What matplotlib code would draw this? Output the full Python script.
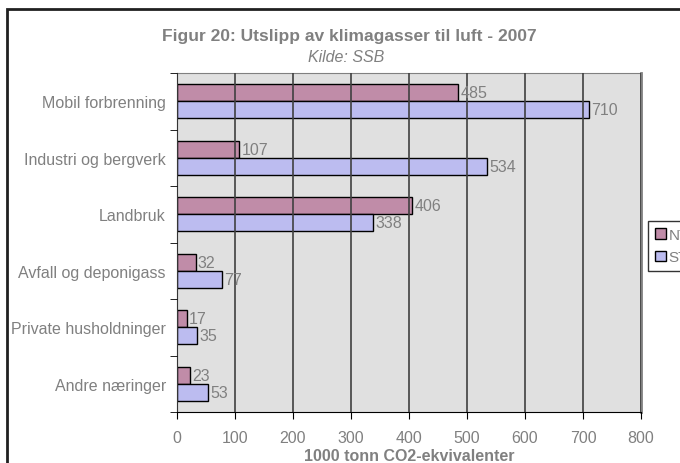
import numpy as np
import matplotlib
matplotlib.use('Agg')
import matplotlib.pyplot as plt
from matplotlib.patches import Rectangle

plt.rcParams['font.family'] = ['Liberation Sans', 'DejaVu Sans']

# data
categories = ['Mobil forbrenning', 'Industri og bergverk', 'Landbruk',
              'Avfall og deponigass', 'Private husholdninger', 'Andre næringer']
nt_values = [485, 107, 406, 32, 17, 23]
st_values = [710, 534, 338, 77, 35, 53]
series_names = ['NT', 'ST']
x_ticks = [0, 100, 200, 300, 400, 500, 600, 700, 800]

grey = '#808080'

fig = plt.figure(figsize=(6.8, 4.64), dpi=100)
ax = fig.add_axes([177 / 680, 1 - 413 / 464, (641 - 177) / 680, (413 - 74) / 464])
ax.set_facecolor('#e0e0e0')

y = np.arange(len(categories))
h = 0.3
b1 = ax.barh(y - h / 2, nt_values, height=h, color='#c08ca8', edgecolor='black',
             linewidth=1, label=series_names[0], zorder=2)
b2 = ax.barh(y + h / 2, st_values, height=h, color='#bcbcf0', edgecolor='black',
             linewidth=1, label=series_names[1], zorder=2)

for bars, vals in ((b1, nt_values), (b2, st_values)):
    for bar, v in zip(bars, vals):
        ax.text(v + 4, bar.get_y() + bar.get_height() / 2, str(v), va='center',
                ha='left', fontsize=11.5, color=grey, zorder=4)

ax.set_xlim(0, 800)
ax.set_ylim(len(categories) - 0.5, -0.5)
ax.set_xticks(x_ticks)
ax.set_xticklabels([str(t) for t in x_ticks], fontsize=11.5, color=grey)
ax.set_yticks(y)
ax.set_yticklabels(categories, fontsize=11.5, color=grey)
ax.set_yticks(np.arange(len(categories) + 1) - 0.5, minor=True)
ax.tick_params(axis='y', which='major', length=0, pad=8)
ax.tick_params(axis='y', which='minor', length=5, direction='out', color='black')
ax.tick_params(axis='x', length=5, direction='out', color='black', pad=8)

ax.grid(axis='x', color='#404040', linewidth=1.2, zorder=3)
ax.set_axisbelow(False)
for g in ax.get_xgridlines():
    g.set_zorder(3)

ax.spines['left'].set_color('black')
ax.spines['bottom'].set_color('black')
ax.spines['top'].set_color(grey)
ax.spines['right'].set_color(grey)
ax.spines['right'].set_linewidth(2)

ax.set_xlabel('1000 tonn CO2-ekvivalenter', fontsize=11.5, fontweight='bold',
              color=grey, labelpad=2)

fig.text(349 / 680, 1 - 37 / 464, 'Figur 20: Utslipp av klimagasser til luft - 2007',
         ha='center', va='center', fontsize=12.5, fontweight='bold', color=grey)
fig.text(346 / 680, 1 - 58 / 464, 'Kilde: SSB', ha='center', va='center',
         fontsize=11.5, style='italic', color=grey)

leg = fig.legend(loc='upper left', bbox_to_anchor=(648 / 680, 1 - 222 / 464),
                 fontsize=11, frameon=True, fancybox=False, handlelength=0.7,
                 handleheight=0.7, handletextpad=0.2, borderpad=0.45,
                 labelspacing=0.55, borderaxespad=0)
leg.get_frame().set_edgecolor('black')
leg.get_frame().set_linewidth(1)
for t in leg.get_texts():
    t.set_color(grey)

fig.patches.append(Rectangle((7 / 680, -0.1), 1.2, 1 - 10 / 464 + 0.1,
                             transform=fig.transFigure, fill=False,
                             edgecolor='#202020', linewidth=2, zorder=0))

fig.savefig('out.png', dpi=100)
